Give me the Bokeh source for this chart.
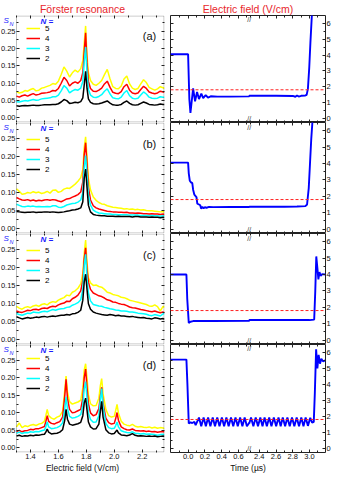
from bokeh.plotting import figure
from bokeh.layouts import column, row
from bokeh.models import (Range1d, LinearAxis, FixedTicker, Label, Legend, LegendItem,
                          Span, NumeralTickFormatter, BoxAnnotation)
from bokeh.embed import file_html
from bokeh.resources import INLINE

FONT = "Liberation Sans"

# ---------------- data: left panels (S_N vs electric field) ----------------
field_ab = [1.30, 1.32, 1.34, 1.36, 1.38, 1.40, 1.42, 1.44, 1.46, 1.48, 1.50, 1.52, 1.54, 1.56,
            1.58, 1.60, 1.62, 1.64, 1.66, 1.68, 1.70, 1.72, 1.74, 1.76, 1.775, 1.785, 1.795,
            1.805, 1.815, 1.83, 1.85, 1.87, 1.89, 1.91, 1.93, 1.95, 1.97, 1.99, 2.01, 2.03,
            2.05, 2.07, 2.09, 2.11, 2.13, 2.15, 2.17, 2.19, 2.21, 2.23, 2.25, 2.27, 2.29,
            2.31, 2.33, 2.35, 2.36]

a_n5 = [.076, .072, .074, .079, .077, .082, .085, .078, .080, .086, .088, .091, .094, .099, .097,
        .106, .125, .147, .135, .118, .130, .138, .132, .142, .165, .215, .265, .180, .130, .108,
        .097, .094, .100, .108, .125, .140, .112, .090, .085, .084, .092, .112, .121, .098, .086,
        .082, .085, .098, .110, .102, .088, .084, .080, .084, .090, .087, .085]
a_n4 = [.063, .060, .064, .066, .063, .067, .070, .066, .068, .071, .072, .073, .075, .079, .078,
        .085, .100, .117, .108, .092, .100, .104, .100, .108, .130, .190, .245, .160, .105, .085,
        .077, .076, .080, .086, .098, .106, .088, .074, .071, .070, .076, .090, .097, .080, .072,
        .070, .072, .082, .091, .085, .075, .072, .070, .072, .077, .075, .074]
a_n3 = [.047, .046, .048, .050, .049, .051, .053, .051, .052, .055, .056, .057, .058, .061, .061,
        .066, .078, .093, .086, .072, .078, .082, .080, .086, .105, .160, .204, .130, .082, .066,
        .060, .059, .062, .067, .077, .084, .069, .058, .056, .055, .060, .072, .079, .064, .057,
        .055, .057, .066, .075, .069, .060, .057, .056, .057, .061, .060, .059]
a_n2 = [.035, .034, .035, .036, .035, .036, .037, .036, .036, .037, .038, .038, .038, .039, .039,
        .041, .046, .053, .050, .042, .043, .045, .044, .047, .058, .095, .134, .085, .055, .045,
        .041, .040, .041, .043, .046, .049, .043, .038, .037, .037, .039, .045, .049, .042, .038,
        .037, .038, .042, .046, .043, .039, .038, .037, .038, .040, .039, .039]

b_n5 = [.111, .104, .096, .097, .101, .099, .103, .100, .102, .098, .100, .104, .099, .107, .108,
        .101, .104, .110, .113, .112, .118, .124, .132, .142, .165, .225, .255, .200, .140, .108,
        .088, .079, .073, .069, .068, .064, .062, .060, .059, .058, .057, .055, .056, .054, .055,
        .053, .054, .052, .053, .051, .050, .050, .049, .048, .047, .048, .046]
b_n4 = [.087, .083, .080, .079, .081, .078, .080, .077, .079, .078, .080, .081, .079, .081, .080,
        .077, .075, .079, .083, .084, .088, .091, .095, .102, .130, .205, .239, .180, .115, .080,
        .064, .058, .055, .053, .051, .049, .048, .047, .047, .046, .046, .045, .046, .044, .044,
        .043, .044, .043, .042, .042, .041, .042, .041, .041, .040, .041, .040]
b_n3 = [.068, .065, .062, .061, .063, .062, .063, .061, .062, .061, .061, .062, .061, .064, .064,
        .060, .059, .062, .066, .068, .070, .071, .074, .080, .100, .170, .203, .150, .095, .066,
        .052, .047, .044, .043, .042, .041, .041, .040, .040, .039, .039, .039, .039, .038, .038,
        .038, .038, .037, .037, .037, .036, .037, .036, .036, .035, .036, .035]
b_n2 = [.048, .047, .046, .045, .046, .046, .047, .045, .046, .046, .047, .047, .046, .047, .046,
        .045, .046, .047, .049, .050, .052, .053, .055, .058, .075, .140, .166, .115, .065, .047,
        .040, .038, .037, .036, .036, .035, .035, .035, .034, .035, .034, .034, .034, .034, .033,
        .034, .034, .033, .033, .033, .032, .033, .032, .032, .031, .032, .031]

c_n5 = [.093, .088, .085, .090, .092, .089, .094, .096, .093, .098, .100, .097, .103, .106, .104,
        .110, .114, .117, .124, .122, .132, .136, .143, .155, .185, .240, .277, .215, .172, .158,
        .151, .152, .148, .146, .140, .132, .130, .126, .124, .122, .118, .117, .114, .110, .108,
        .106, .104, .102, .100, .098, .094, .093, .097, .092, .080, .093, .090]
c_n4 = [.080, .077, .076, .079, .082, .081, .084, .085, .083, .087, .088, .087, .091, .093, .092,
        .097, .100, .102, .107, .106, .114, .118, .124, .136, .165, .225, .255, .195, .160, .140,
        .130, .126, .122, .120, .116, .111, .109, .105, .104, .101, .099, .098, .095, .091, .089,
        .088, .086, .084, .083, .081, .079, .078, .080, .077, .075, .077, .075]
c_n3 = [.073, .070, .068, .071, .074, .073, .077, .076, .075, .078, .079, .078, .081, .084, .082,
        .085, .086, .087, .090, .091, .096, .099, .103, .111, .140, .205, .237, .170, .130, .108,
        .098, .096, .094, .093, .090, .088, .086, .085, .083, .082, .080, .080, .079, .077, .077,
        .076, .074, .073, .072, .071, .068, .067, .070, .068, .066, .072, .073]
c_n2 = [.064, .061, .058, .060, .062, .060, .061, .063, .062, .064, .065, .063, .065, .066, .065,
        .067, .068, .068, .070, .069, .072, .073, .076, .082, .110, .160, .182, .140, .100, .085,
        .077, .074, .072, .070, .069, .068, .070, .069, .067, .068, .066, .066, .065, .064, .065,
        .063, .062, .061, .062, .060, .059, .058, .061, .060, .058, .059, .057]

field_d = [1.30, 1.32, 1.34, 1.36, 1.38, 1.40, 1.42, 1.44, 1.46, 1.48, 1.50, 1.51, 1.52, 1.53,
           1.55, 1.57, 1.59, 1.61, 1.63, 1.645, 1.655, 1.665, 1.68, 1.70, 1.72, 1.74, 1.76,
           1.775, 1.785, 1.795, 1.805, 1.815, 1.83, 1.85, 1.87, 1.89, 1.90, 1.91, 1.92, 1.94,
           1.96, 1.98, 2.00, 2.01, 2.02, 2.03, 2.05, 2.07, 2.09, 2.11, 2.13, 2.15, 2.17, 2.19,
           2.21, 2.23, 2.25, 2.27, 2.29, 2.31, 2.33, 2.35, 2.36]
d_n5 = [.060, .071, .058, .063, .061, .065, .067, .064, .068, .070, .076, .092, .110, .092,
        .085, .082, .088, .091, .104, .162, .205, .160, .132, .125, .128, .131, .136,
        .172, .222, .240, .200, .152, .126, .120, .121, .142, .176, .198, .155, .110,
        .092, .088, .090, .106, .124, .100, .076, .068, .065, .063, .067, .062, .060, .061,
        .059, .058, .060, .057, .059, .056, .058, .057, .055]
d_n4 = [.047, .050, .046, .049, .050, .053, .052, .055, .055, .058, .061, .075, .092, .076,
        .070, .068, .072, .075, .088, .145, .196, .142, .110, .100, .102, .106, .110,
        .142, .200, .225, .172, .126, .100, .092, .095, .112, .146, .173, .128, .085,
        .072, .068, .070, .083, .101, .079, .060, .055, .052, .051, .054, .050, .049, .048,
        .049, .047, .048, .046, .047, .045, .046, .047, .045]
d_n3 = [.042, .045, .041, .044, .043, .046, .045, .047, .046, .049, .051, .060, .074, .060,
        .055, .056, .058, .062, .071, .108, .146, .112, .090, .085, .087, .090, .095,
        .122, .168, .189, .142, .100, .081, .073, .074, .092, .135, .169, .118, .070,
        .058, .055, .056, .063, .074, .060, .049, .046, .044, .043, .046, .042, .041, .040,
        .041, .039, .040, .039, .038, .036, .038, .039, .038]
d_n2 = [.034, .036, .033, .035, .034, .036, .035, .037, .036, .038, .039, .045, .054, .045,
        .040, .041, .042, .045, .052, .078, .110, .082, .068, .065, .067, .069, .073,
        .092, .128, .142, .108, .074, .060, .054, .055, .068, .102, .133, .088, .052,
        .043, .040, .041, .046, .051, .043, .037, .036, .035, .037, .041, .036, .034, .035,
        .034, .033, .034, .033, .034, .032, .033, .034, .033]

# ---------------- data: right panels (electric field vs time, µs) ----------------
time_a = [-0.21, 0.0, 0.015, 0.028, 0.06, 0.083, 0.107, 0.13, 0.158, 0.18, 0.21, 0.237, 0.27,
          0.35, 0.5, 0.73, 2.28, 2.6, 2.8, 2.83, 2.85, 2.87, 2.9, 2.95, 2.965, 2.98, 2.996,
          3.01, 3.027, 3.04]
efield_a = [4.05, 4.05, 1.2, 0.33, 1.89, 1.07, 1.66, 1.21, 1.56, 1.27, 1.46, 1.31, 1.39,
            1.37, 1.37, 1.38, 1.42, 1.42, 1.41, 1.36, 1.44, 1.37, 1.42, 1.44, 1.48, 1.86, 3.2,
            4.8, 6.5, 7.2]

time_b = [-0.21, 0.0, 0.008, 0.02, 0.035, 0.05, 0.06, 0.075, 0.09, 0.1, 0.11, 0.13, 0.145,
          0.155, 0.17, 0.185, 0.2, 0.22, 0.25, 0.3, 0.5, 0.73, 2.28, 2.5, 2.7, 2.85, 2.95,
          2.97, 2.99, 3.005, 3.02, 3.04]
efield_b = [4.05, 4.05, 3.4, 2.95, 2.85, 2.8, 2.4, 2.1, 2.0, 1.95, 1.55, 1.5, 1.45, 1.25,
            1.35, 1.27, 1.33, 1.3, 1.35, 1.34, 1.35, 1.35, 1.36, 1.36, 1.36, 1.38, 1.4, 1.5,
            2.5, 4.0, 5.5, 7.0]

time_c = [-0.21, -0.02, -0.01, 0.008, 0.028, 0.06, 0.3, 0.73, 2.28, 2.6, 3.0, 3.055, 3.068,
          3.08, 3.093, 3.105, 3.118, 3.132, 3.15, 3.19]
efield_c = [4.0, 4.0, 2.5, 1.05, 1.12, 1.16, 1.16, 1.17, 1.22, 1.22, 1.22, 1.25, 3.0, 5.1,
            4.4, 3.7, 4.15, 3.92, 4.02, 4.0]

time_d = [-0.21, -0.02, -0.008, 0.008, 0.028, 0.05, 0.075, 0.09, 0.103, 0.13,
          0.157, 0.185, 0.212, 0.239, 0.266, 0.294, 0.321, 0.348, 0.375, 0.403,
          0.43, 0.457, 0.484, 0.512, 0.539, 0.566, 0.593, 0.621, 0.648, 0.675,
          0.702, 0.73, 2.28, 2.301, 2.329, 2.357, 2.384, 2.412, 2.438, 2.463,
          2.49, 2.518, 2.545, 2.573, 2.601, 2.629, 2.655, 2.68, 2.708, 2.735,
          2.763, 2.79, 2.818, 2.846, 2.874, 2.901, 2.927, 2.953, 2.98, 3.008,
          3.03, 3.05, 3.063, 3.078, 3.093, 3.108, 3.124, 3.14, 3.16, 3.19]
efield_d = [5.55, 5.55, 4.0, 1.55, 1.62, 1.58, 1.65, 1.45, 1.6, 1.92,
            1.38, 1.92, 1.37, 1.93, 1.38, 1.92, 1.37, 1.93, 1.38, 1.92,
            1.37, 1.93, 1.38, 1.92, 1.37, 1.93, 1.38, 1.92, 1.37, 1.93,
            1.38, 1.6, 1.55, 1.92, 1.37, 1.93, 1.38, 1.92, 1.37, 1.93,
            1.38, 1.92, 1.37, 1.93, 1.38, 1.92, 1.37, 1.93, 1.38, 1.92,
            1.37, 1.93, 1.38, 1.92, 1.37, 1.93, 1.38, 1.92, 1.4, 1.9,
            1.6, 1.65, 3.5, 6.2, 5.0, 5.85, 5.3, 5.6, 5.45, 5.5]

resonance_field = 1.8
panel_tags = ["(a)", "(b)", "(c)", "(d)"]
n_labels = ["5", "4", "3", "2"]
n_colors = ["#ffff00", "#ff0000", "#00ffff", "#000000"]

sn_ticks = [0.0, 0.05, 0.10, 0.15, 0.20, 0.25]
sn_minor = [0.025, 0.075, 0.125, 0.175, 0.225, 0.275]
ef_ticks = [1.4, 1.6, 1.8, 2.0, 2.2]
ef_minor = [1.3, 1.5, 1.7, 1.9, 2.1, 2.3]
e_ticks = [0, 1, 2, 3, 4, 5, 6]
e_minor = [0.5, 1.5, 2.5, 3.5, 4.5, 5.5]
time_ticks = [0.0, 0.2, 0.4, 0.6, 2.4, 2.6, 2.8, 3.0]
time_tick_labels = ["0.0", "0.2", "0.4", "0.6", "2.4", "2.6", "2.8", "3.0"]
time_minor = [-0.1, 0.1, 0.3, 0.5, 0.7, 2.3, 2.5, 2.7, 2.9, 3.1]

# broken time axis
BREAK_LO, BREAK_HI = 0.73, 2.28


def brk(t):
    return t if t <= BREAK_LO else t - (BREAK_HI - BREAK_LO)


# ---------------- layout ----------------
WL, WR = 166, 167
FRAME_H = 111
TOP_B, BOT_B = 11, 20
AX = "#222222"
PAD = 16                     # room (px) for the S_N tick labels, kept inside the left frame
EF0, EF1 = 1.3, 2.36
LFW = WL - 2                 # left frame width (min_border_right = 2)
px_ef = (EF1 - EF0) / (LFW - PAD)
EFL = EF0 - PAD * px_ef
SN0, SN1 = -0.013, 0.295
E0, E1 = -0.27, 6.5
LEG_ROW = 10                 # legend row height, px


def style(ax, show):
    ax.major_tick_in = 3
    ax.major_tick_out = 0
    ax.minor_tick_in = 2
    ax.minor_tick_out = 0
    ax.major_tick_line_color = AX
    ax.minor_tick_line_color = AX
    ax.axis_line_color = None
    ax.major_label_text_font = FONT
    ax.major_label_text_font_size = "7.5px"
    ax.major_label_standoff = 1 if show else 0
    ax.major_label_text_color = "#111111"
    ax.axis_label_text_font = FONT
    ax.axis_label_text_font_size = "8.5px"
    ax.axis_label_text_font_style = "normal"
    ax.axis_label_standoff = 1
    ax.axis_label_text_color = "#111111"


def mirror(p, side, major, minor):
    # tick marks only (no labels): drawn as the minor ticks of an empty ticker
    for pos, ln in ((major, 3), (minor, 2)):
        a = LinearAxis(ticker=FixedTicker(ticks=[], minor_ticks=pos))
        style(a, False)
        a.minor_tick_in = ln
        p.add_layout(a, side)


def base(p):
    p.xgrid.visible = False
    p.ygrid.visible = False
    p.background_fill_color = "white"
    p.border_fill_color = "white"
    if p.title is not None:
        p.title.align = "center"
        p.title.text_color = "#e8262b"
        p.title.text_font = FONT
        p.title.text_font_size = "10.5px"
        p.title.text_font_style = "normal"
        p.title.standoff = 1


left_data = [(field_ab, [a_n5, a_n4, a_n3, a_n2]),
             (field_ab, [b_n5, b_n4, b_n3, b_n2]),
             (field_ab, [c_n5, c_n4, c_n3, c_n2]),
             (field_d, [d_n5, d_n4, d_n3, d_n2])]
right_data = [(time_a, efield_a), (time_b, efield_b), (time_c, efield_c), (time_d, efield_d)]

rows = []
for i in range(4):
    top = i == 0
    bottom = i == 3
    h = FRAME_H + (TOP_B if top else 0) + (BOT_B if bottom else 0)
    py_sn = (SN1 - SN0) / FRAME_H
    py_e = (E1 - E0) / FRAME_H

    # ----- left panel -----
    pl = figure(width=WL, height=h, x_range=Range1d(EFL, EF1), y_range=Range1d(SN0, SN1),
                output_backend="svg", toolbar_location=None,
                title=("Förster resonance" if top else None),
                min_border_left=0, min_border_right=2,
                min_border_top=(TOP_B if top else 0), min_border_bottom=(BOT_B if bottom else 0))
    base(pl)
    pl.outline_line_color = None
    # visible frame: from 1.3 to the right edge (left strip holds the S_N labels)
    pl.add_layout(BoxAnnotation(left=EF0, right=EF1 - 0.5 * px_ef,
                                bottom=SN0 + 0.5 * py_sn, top=SN1 - 0.5 * py_sn,
                                fill_alpha=0, line_color=AX, line_width=1))
    yax = pl.yaxis[0]
    yax.ticker = FixedTicker(ticks=sn_ticks, minor_ticks=sn_minor)
    yax.formatter = NumeralTickFormatter(format="0.00")
    yax.fixed_location = EF0
    style(yax, True)
    if bottom:
        xax = pl.xaxis[0]
        xax.ticker = FixedTicker(ticks=ef_ticks, minor_ticks=ef_minor)
        xax.formatter = NumeralTickFormatter(format="0.0")
        style(xax, True)
        xax.axis_label = "Electric field (V/cm)"
    else:
        pl.xaxis[0].visible = False
        mirror(pl, "below", ef_ticks, ef_minor)
    mirror(pl, "above", ef_ticks, ef_minor)
    mirror(pl, "right", sn_ticks, sn_minor)

    xs, series = left_data[i]
    rends = []
    for ys, col in zip(series, n_colors):
        rends.append(pl.line(xs, ys, line_color=col, line_width=1.5))
    leg = Legend(items=[LegendItem(label=lab, renderers=[r]) for lab, r in zip(n_labels, rends)],
                 margin=0, padding=0, spacing=0,
                 glyph_width=14, glyph_height=LEG_ROW, label_height=LEG_ROW, label_standoff=5,
                 label_text_font=FONT, label_text_font_size="8px", label_text_color="#000000",
                 background_fill_alpha=0, border_line_alpha=0)
    # legend box: bottom-left corner, in px from the frame's bottom-left
    leg.location = (PAD + 10, FRAME_H - 12 - 4 * LEG_ROW)
    pl.add_layout(leg)
    pl.add_layout(Label(x=EF0 + 24 * px_ef, y=SN1 - 6 * py_sn, text="N =", text_font=FONT,
                        text_font_size="8px", text_font_style="bold italic",
                        text_color="#1a1aff", text_baseline="middle"))
    pl.add_layout(Label(x=EF0 - 13 * px_ef, y=SN1 - 5 * py_sn, text="S", text_font=FONT,
                        text_font_size="8px", text_font_style="italic", text_color="#1a1aff",
                        text_baseline="middle"))
    pl.add_layout(Label(x=EF0 - 7 * px_ef, y=SN1 - 8.5 * py_sn, text="N", text_font=FONT,
                        text_font_size="5.5px", text_font_style="italic", text_color="#1a1aff",
                        text_baseline="middle"))
    pl.add_layout(Label(x=EF1 - 15 * px_ef, y=SN1 - 21 * py_sn, text=panel_tags[i],
                        text_font=FONT, text_font_size="11px", text_align="center",
                        text_baseline="middle", text_color="#111111"))

    # ----- right panel -----
    pr = figure(width=WR, height=h, x_range=Range1d(brk(-0.21), brk(3.19)),
                y_range=Range1d(E0, E1), y_axis_location="right",
                output_backend="svg", toolbar_location=None,
                title=("Electric field (V/cm)" if top else None),
                min_border_left=4, min_border_right=8,
                min_border_top=(TOP_B if top else 0), min_border_bottom=(BOT_B if bottom else 0))
    base(pr)
    pr.outline_line_color = AX
    pr.outline_line_width = 1
    tmaj = [brk(t) for t in time_ticks]
    tmin = [brk(t) for t in time_minor]
    pr.yaxis[0].ticker = FixedTicker(ticks=e_ticks, minor_ticks=e_minor)
    style(pr.yaxis[0], True)
    if bottom:
        xax = pr.xaxis[0]
        xax.ticker = FixedTicker(ticks=tmaj, minor_ticks=tmin)
        xax.major_label_overrides = {u: s for u, s in zip(tmaj, time_tick_labels)}
        style(xax, True)
        xax.axis_label = "Time (µs)"
    else:
        pr.xaxis[0].visible = False
        mirror(pr, "below", tmaj, tmin)
    mirror(pr, "above", tmaj, tmin)
    mirror(pr, "left", e_ticks, e_minor)

    pr.add_layout(Span(location=resonance_field, dimension="width", line_color="#ff2020",
                       line_dash="3 2", line_width=1))
    ts, es = right_data[i]
    pr.line([brk(t) for t in ts], es, line_color="#0000ff", line_width=1.9)
    for yb in (E1 - 4.5 * py_e, E0 + 4.5 * py_e):
        pr.add_layout(Label(x=BREAK_LO, y=yb, text="//", text_font=FONT, text_font_size="7px",
                            text_align="center", text_baseline="middle", text_color="#333333"))

    rows.append(row(pl, pr))

layout = column(*rows)
open("out.html", "w").write(file_html(layout, INLINE))
